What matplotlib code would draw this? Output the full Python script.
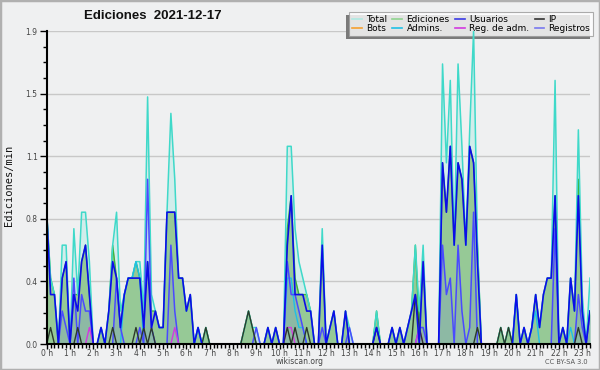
import numpy as np
import matplotlib
matplotlib.use("Agg")
import matplotlib.pyplot as plt
from matplotlib.lines import Line2D
from matplotlib.patches import Rectangle

# ---- data: edits per minute, 10-minute bins (one row = one hour) ----
total = [
    0.8, 0.4, 0.3, 0, 0.6, 0.6,
    0, 0.7, 0.3, 0.8, 0.8, 0.5,
    0, 0, 0.1, 0, 0.2, 0.6,
    0.8, 0.2, 0.3, 0.4, 0.4, 0.5,
    0.5, 0.2, 1.5, 0.3, 0.2, 0.1,
    0.1, 0.8, 1.4, 1.0, 0.4, 0.4,
    0.2, 0.3, 0, 0.1, 0, 0.1,
    0, 0, 0, 0, 0, 0,
    0, 0, 0, 0.1, 0.2, 0.1,
    0.1, 0, 0, 0.1, 0, 0.1,
    0, 0, 1.2, 1.2, 0.7, 0.5,
    0.4, 0.3, 0.2, 0, 0, 0.7,
    0, 0.1, 0.2, 0, 0, 0.2,
    0.1, 0, 0, 0, 0, 0,
    0, 0.2, 0, 0, 0, 0.1,
    0, 0.1, 0, 0.1, 0.2, 0.6,
    0.2, 0.6, 0, 0, 0, 0,
    1.7, 1.1, 1.6, 0.6, 1.7, 1.2,
    0.6, 1.3, 1.9, 0.6, 0, 0,
    0, 0, 0, 0.1, 0, 0.1,
    0, 0.3, 0, 0.1, 0, 0.1,
    0.3, 0.1, 0.3, 0.4, 0.4, 1.6,
    0, 0.1, 0, 0.4, 0.2, 1.3,
    0.3, 0, 0.4,
]
ediciones = [
    0.8, 0.4, 0.3, 0, 0.4, 0.5,
    0, 0.3, 0.3, 0.5, 0.6, 0.3,
    0, 0, 0.1, 0, 0.2, 0.6,
    0.4, 0.1, 0.3, 0.4, 0.4, 0.5,
    0.4, 0.2, 0.5, 0.2, 0.2, 0.1,
    0.1, 0.8, 0.8, 0.8, 0.4, 0.4,
    0.2, 0.3, 0, 0.1, 0, 0.1,
    0, 0, 0, 0, 0, 0,
    0, 0, 0, 0.1, 0.2, 0.1,
    0, 0, 0, 0.1, 0, 0.1,
    0, 0, 0.7, 0.9, 0.4, 0.3,
    0.3, 0.3, 0.2, 0, 0, 0.6,
    0, 0.1, 0.2, 0, 0, 0.2,
    0, 0, 0, 0, 0, 0,
    0, 0.2, 0, 0, 0, 0.1,
    0, 0.1, 0, 0.1, 0.2, 0.6,
    0.1, 0.5, 0, 0, 0, 0,
    1.1, 0.8, 1.2, 0.6, 1.1, 1.0,
    0.6, 1.2, 1.1, 0.6, 0, 0,
    0, 0, 0, 0.1, 0, 0.1,
    0, 0.3, 0, 0.1, 0, 0.1,
    0.3, 0.1, 0.3, 0.4, 0.4, 0.9,
    0, 0.1, 0, 0.4, 0.2, 1.0,
    0.2, 0, 0.2,
]
usuarios = [
    0.8, 0.3, 0.3, 0, 0.4, 0.5,
    0, 0.3, 0.2, 0.5, 0.6, 0.3,
    0, 0, 0.1, 0, 0.2, 0.5,
    0.4, 0.1, 0.3, 0.4, 0.4, 0.4,
    0.4, 0.1, 0.5, 0.1, 0.2, 0.1,
    0.1, 0.8, 0.8, 0.8, 0.4, 0.4,
    0.2, 0.3, 0, 0.1, 0, 0,
    0, 0, 0, 0, 0, 0,
    0, 0, 0, 0, 0, 0,
    0, 0, 0, 0.1, 0, 0.1,
    0, 0, 0.6, 0.9, 0.3, 0.3,
    0.3, 0.2, 0.2, 0, 0, 0.6,
    0, 0.1, 0.2, 0, 0, 0.2,
    0, 0, 0, 0, 0, 0,
    0, 0.1, 0, 0, 0, 0.1,
    0, 0.1, 0, 0.1, 0.2, 0.3,
    0, 0.5, 0, 0, 0, 0,
    1.1, 0.8, 1.2, 0.6, 1.1, 1.0,
    0.6, 1.2, 1.1, 0.5, 0, 0,
    0, 0, 0, 0, 0, 0,
    0, 0.3, 0, 0.1, 0, 0.1,
    0.3, 0.1, 0.3, 0.4, 0.4, 0.9,
    0, 0.1, 0, 0.4, 0.2, 0.9,
    0.2, 0, 0.2,
]
ip = [
    0, 0.1, 0, 0, 0, 0,
    0, 0, 0.1, 0, 0, 0,
    0, 0, 0, 0, 0, 0.1,
    0, 0, 0, 0, 0, 0.1,
    0, 0.1, 0, 0.1, 0, 0,
    0, 0, 0, 0, 0, 0,
    0, 0, 0, 0, 0, 0.1,
    0, 0, 0, 0, 0, 0,
    0, 0, 0, 0.1, 0.2, 0.1,
    0, 0, 0, 0, 0, 0,
    0, 0, 0.1, 0, 0.1, 0,
    0, 0.1, 0, 0, 0, 0,
    0, 0, 0, 0, 0, 0,
    0, 0, 0, 0, 0, 0,
    0, 0.1, 0, 0, 0, 0,
    0, 0, 0, 0, 0, 0.3,
    0.1, 0, 0, 0, 0, 0,
    0, 0, 0, 0, 0, 0,
    0, 0, 0, 0.1, 0, 0,
    0, 0, 0, 0.1, 0, 0.1,
    0, 0, 0, 0, 0, 0,
    0, 0, 0, 0, 0, 0,
    0, 0, 0, 0, 0, 0.1,
    0, 0, 0,
]
registros = [
    0, 0, 0, 0, 0.2, 0.1,
    0, 0.4, 0, 0.3, 0.2, 0.2,
    0, 0, 0, 0, 0, 0,
    0.4, 0.1, 0, 0, 0, 0,
    0.1, 0, 1.0, 0.1, 0, 0,
    0, 0, 0.6, 0.2, 0, 0,
    0, 0, 0, 0, 0, 0,
    0, 0, 0, 0, 0, 0,
    0, 0, 0, 0, 0, 0,
    0.1, 0, 0, 0, 0, 0,
    0, 0, 0.5, 0.3, 0.3, 0.2,
    0.1, 0, 0, 0, 0, 0.1,
    0, 0, 0, 0, 0, 0,
    0.1, 0, 0, 0, 0, 0,
    0, 0, 0, 0, 0, 0,
    0, 0, 0, 0, 0, 0,
    0.1, 0.1, 0, 0, 0, 0,
    0.6, 0.3, 0.4, 0, 0.6, 0.2,
    0, 0.1, 0.8, 0, 0, 0,
    0, 0, 0, 0, 0, 0,
    0, 0, 0, 0, 0, 0,
    0, 0, 0, 0, 0, 0.7,
    0, 0, 0, 0, 0, 0.3,
    0.1, 0, 0.2,
]
admins = [
    0, 0, 0, 0, 0, 0,
    0, 0, 0, 0, 0, 0,
    0, 0, 0, 0, 0, 0,
    0, 0, 0.3, 0.4, 0.4, 0.5,
    0.4, 0, 0, 0, 0, 0,
    0, 0, 0, 0, 0, 0,
    0, 0, 0, 0.1, 0, 0,
    0, 0, 0, 0, 0, 0,
    0, 0, 0, 0, 0, 0,
    0, 0, 0, 0, 0, 0,
    0, 0, 0.4, 0.4, 0.2, 0.1,
    0.1, 0, 0, 0, 0, 0,
    0, 0, 0, 0, 0, 0,
    0, 0, 0, 0, 0, 0,
    0, 0, 0, 0, 0, 0,
    0, 0, 0, 0, 0, 0,
    0, 0, 0, 0, 0, 0,
    0, 0, 0, 0, 0, 0,
    0, 0, 0, 0, 0, 0,
    0, 0, 0, 0, 0, 0,
    0, 0.3, 0, 0, 0, 0.1,
    0.2, 0, 0, 0, 0, 0,
    0, 0, 0, 0.1, 0, 0,
    0, 0, 0,
]
reg_adm = [
    0, 0, 0, 0, 0, 0,
    0, 0, 0, 0, 0, 0.1,
    0, 0, 0, 0, 0, 0,
    0, 0, 0, 0, 0, 0,
    0, 0, 0, 0, 0, 0,
    0, 0, 0, 0.1, 0, 0,
    0, 0, 0, 0, 0, 0,
    0, 0, 0, 0, 0, 0,
    0, 0, 0, 0, 0, 0,
    0, 0, 0, 0, 0, 0,
    0, 0, 0.1, 0.1, 0, 0,
    0, 0, 0, 0, 0, 0,
    0, 0, 0, 0, 0, 0,
    0, 0, 0, 0, 0, 0,
    0, 0, 0, 0, 0, 0,
    0, 0, 0, 0, 0, 0,
    0.1, 0, 0, 0, 0, 0,
    0, 0, 0, 0, 0, 0,
    0, 0, 0, 0, 0, 0,
    0, 0, 0, 0, 0, 0,
    0, 0, 0, 0, 0, 0,
    0, 0, 0, 0, 0, 0,
    0, 0, 0, 0, 0, 0,
    0, 0, 0,
]
bots = [0] * len(total)

legend_labels = ["Total", "Bots", "Ediciones", "Admins.",
                 "Usuarios", "Reg. de adm.", "IP", "Registros"]
title_text = "Ediciones  2021-12-17"
ylabel_text = "Ediciones/min"
y_max = 1.9

# ---- figure ----
BG = "#eff0f1"
fig = plt.figure(figsize=(6.0, 3.7), dpi=100, facecolor=BG)
ax = fig.add_axes([46.7 / 600, 1 - 344 / 370, (590 - 46.7) / 600, (344 - 31) / 370])
ax.set_facecolor(BG)

x = np.arange(len(total)) / 6.0

C_TOT = "#3fd9c9"
C_ED = "#3cb43c"
C_US = "#0c0ce8"
C_IP = "#2c3a2c"
C_BOT = "#f5a030"
C_ADM = "#1ec0e6"
C_RA = "#d23ae0"
C_REG = "#4a4aff"

ax.fill_between(x, total, color="#40e0d0", alpha=0.17, lw=0, zorder=2)
ax.fill_between(x, ediciones, color="#96c996", lw=0, zorder=2.1)
ax.fill_between(x, registros, color="#5a5aff", alpha=0.14, lw=0, zorder=2.2)

ax.plot(x, bots, color=C_BOT, lw=1.0, zorder=1.5)
ax.plot(x, ediciones, color=C_ED, lw=1.0, zorder=3.0)
ax.plot(x, total, color=C_TOT, lw=1.1, zorder=3.1)
ax.plot(x, admins, color=C_ADM, lw=1.0, zorder=3.2)
ax.plot(x, registros, color=C_REG, lw=1.1, zorder=3.3)
ax.plot(x, reg_adm, color=C_RA, lw=1.0, zorder=3.4)
ax.plot(x, ip, color=C_IP, lw=1.0, zorder=3.5)
ax.plot(x, usuarios, color=C_US, lw=1.2, zorder=3.6)

ax.set_xlim(0, x[-1])
ax.set_ylim(0, y_max)

yt = np.linspace(0, y_max, 6)
ax.set_yticks(yt)
ax.set_yticklabels([f"{v:.1f}" for v in yt])
ax.set_yticks(np.arange(0, y_max + 1e-9, y_max / 20), minor=True)
hours = np.arange(0, 24)
ax.set_xticks(hours)
ax.set_xticklabels([f"{h} h" for h in hours])
ax.set_xticks(np.arange(0, x[-1] + 1e-9, 1 / 6), minor=True)

ax.tick_params(axis="y", which="major", direction="out", length=5, width=1,
               labelsize=5.5, labelcolor="#444444", pad=1.5)
ax.tick_params(axis="y", which="minor", direction="out", length=3, width=1)
ax.tick_params(axis="x", which="major", direction="out", length=3.5, width=1,
               labelsize=5.5, labelcolor="#444444", pad=0)
ax.tick_params(axis="x", which="minor", direction="out", length=3, width=1)

ax.grid(axis="y", which="major", color="#c8c8c8", lw=1)
ax.set_axisbelow(True)
for s in ("top", "right"):
    ax.spines[s].set_visible(False)
for s in ("left", "bottom"):
    ax.spines[s].set_linewidth(1.5)
    ax.spines[s].set_zorder(4)

# legend (drawn below the data lines, like the original)
handle_colors = ["#aee9e2", C_BOT, "#8fd48f", C_ADM, "#3a3ae6", C_RA, "#333333", "#7878f0"]
handles = [Line2D([0], [0], color=c, lw=1.2) for c in handle_colors]
leg = ax.legend(handles, legend_labels, ncol=4, loc="upper right",
                bbox_to_anchor=(593 / 600, 1 - 12 / 370), bbox_transform=fig.transFigure,
                fontsize=6.5, frameon=True, fancybox=False, shadow=False,
                handlelength=1.1, handletextpad=0.45, columnspacing=0.6,
                borderpad=0.3, labelspacing=0.05, borderaxespad=0)
leg.get_frame().set_facecolor("white")
leg.get_frame().set_edgecolor("#999999")
leg.get_frame().set_linewidth(0.8)
leg.set_zorder(1.2)

fig.canvas.draw()
bb = leg.get_window_extent().transformed(fig.transFigure.inverted())
shadow = Rectangle((bb.x0 - 3 / 600, bb.y0 - 3 / 370), bb.width, bb.height,
                   transform=fig.transFigure, facecolor="#7a7a7a", edgecolor="none",
                   clip_on=False, zorder=1.1)
ax.add_patch(shadow)

fig.text(153 / 600, 1 - 16 / 370, title_text, ha="center", va="center",
         fontsize=9.5, fontweight="bold", family="Liberation Sans", color="#111111")
fig.text(9 / 600, 0.5, ylabel_text, rotation=90, ha="center", va="center",
         fontsize=7.5, family="DejaVu Sans Mono", color="#111111")
fig.text(300 / 600, 1 - 362 / 370, "wikiscan.org", ha="center", va="center",
         fontsize=5.5, color="#444444")
fig.text(566 / 600, 1 - 362 / 370, "CC BY-SA 3.0", ha="center", va="center",
         fontsize=4.8, color="#555555")

fig.patches.append(Rectangle((0, 0), 1, 1, transform=fig.transFigure, fill=False,
                             edgecolor="#b0b0b0", lw=2.5, zorder=10))

fig.savefig("out.png", dpi=100, facecolor=BG)
